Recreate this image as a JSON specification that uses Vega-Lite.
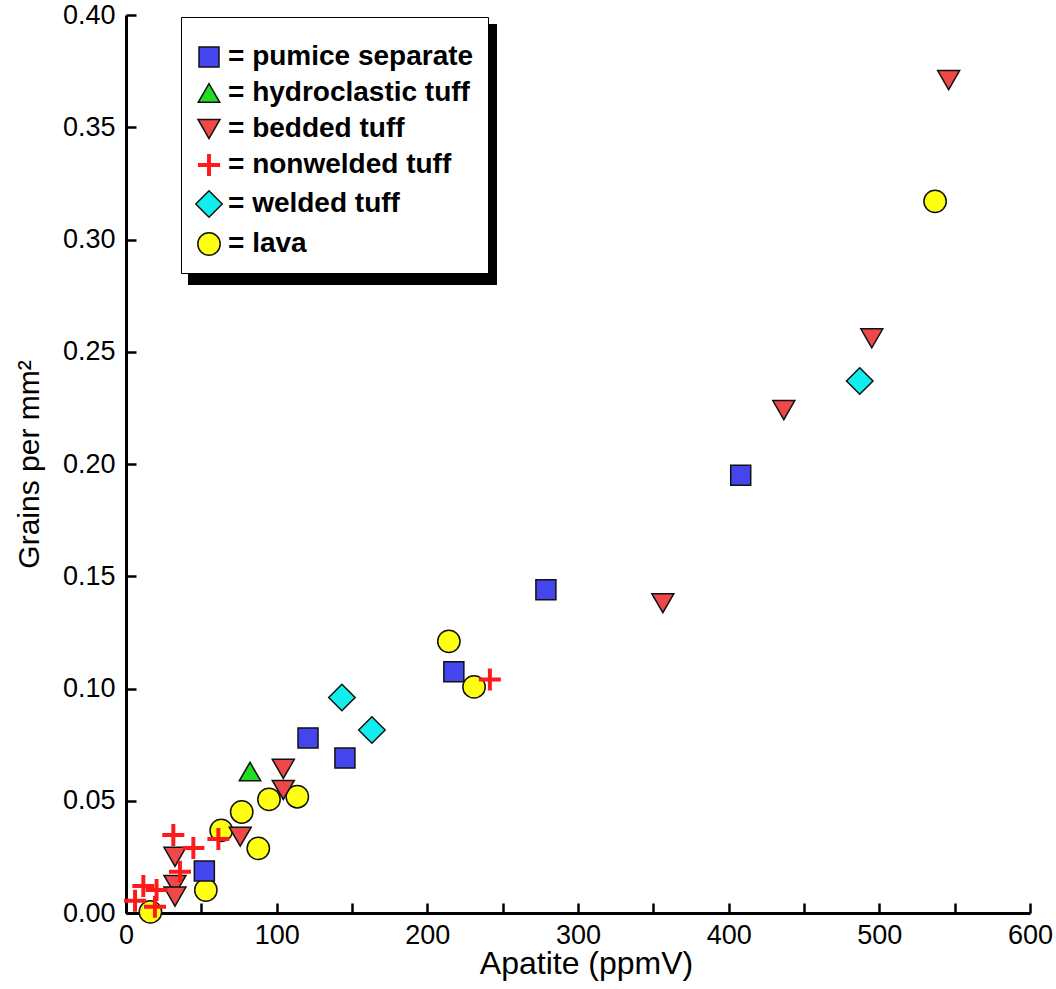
{
  "$schema": "https://vega.github.io/schema/vega-lite/v6.json",
  "autosize": {"type": "none"},
  "padding": {"left": 126, "top": 15, "right": 26, "bottom": 76},
  "width": 904,
  "height": 898,
  "background": "white",
  "config": {"view": {"stroke": null}},
  "data": {"values": [
    {"a": 537, "g": 0.317, "type": "lava"},
    {"a": 214.3, "g": 0.121, "type": "lava"},
    {"a": 231, "g": 0.1007, "type": "lava"},
    {"a": 113.7, "g": 0.0518, "type": "lava"},
    {"a": 94.9, "g": 0.0506, "type": "lava"},
    {"a": 76.8, "g": 0.045, "type": "lava"},
    {"a": 63.2, "g": 0.0368, "type": "lava"},
    {"a": 87.8, "g": 0.0288, "type": "lava"},
    {"a": 53, "g": 0.0102, "type": "lava"},
    {"a": 16.2, "g": 0.0005, "type": "lava"},
    {"a": 487, "g": 0.237, "type": "welded tuff"},
    {"a": 143.3, "g": 0.096, "type": "welded tuff"},
    {"a": 163.2, "g": 0.0815, "type": "welded tuff"},
    {"a": 52, "g": 0.0187, "type": "pumice separate"},
    {"a": 120.8, "g": 0.078, "type": "pumice separate"},
    {"a": 145.3, "g": 0.069, "type": "pumice separate"},
    {"a": 217.6, "g": 0.1075, "type": "pumice separate"},
    {"a": 278.7, "g": 0.144, "type": "pumice separate"},
    {"a": 408, "g": 0.195, "type": "pumice separate"},
    {"a": 82.3, "g": 0.063, "type": "hydroclastic tuff"},
    {"a": 546, "g": 0.371, "type": "bedded tuff"},
    {"a": 495, "g": 0.256, "type": "bedded tuff"},
    {"a": 436.6, "g": 0.224, "type": "bedded tuff"},
    {"a": 356.3, "g": 0.138, "type": "bedded tuff"},
    {"a": 104.4, "g": 0.0642, "type": "bedded tuff"},
    {"a": 104.4, "g": 0.0548, "type": "bedded tuff"},
    {"a": 75.8, "g": 0.034, "type": "bedded tuff"},
    {"a": 32.5, "g": 0.025, "type": "bedded tuff"},
    {"a": 32.5, "g": 0.0125, "type": "bedded tuff"},
    {"a": 32.5, "g": 0.0073, "type": "bedded tuff"},
    {"a": 241.5, "g": 0.104, "type": "nonwelded tuff"},
    {"a": 31.4, "g": 0.0347, "type": "nonwelded tuff"},
    {"a": 44.7, "g": 0.029, "type": "nonwelded tuff"},
    {"a": 61.3, "g": 0.033, "type": "nonwelded tuff"},
    {"a": 35.8, "g": 0.0184, "type": "nonwelded tuff"},
    {"a": 11.5, "g": 0.012, "type": "nonwelded tuff"},
    {"a": 20.3, "g": 0.0102, "type": "nonwelded tuff"},
    {"a": 6, "g": 0.0055, "type": "nonwelded tuff"},
    {"a": 19.2, "g": 0.0028, "type": "nonwelded tuff"}
  ]},
  "mark": {"type": "point", "filled": true, "strokeWidth": 1.5, "opacity": 1},
  "encoding": {
    "x": {
      "field": "a", "type": "quantitative",
      "scale": {"domain": [0, 600], "nice": false, "zero": false},
      "axis": {
        "title": "Apatite (ppmV)",
        "values": [0, 50, 100, 150, 200, 250, 300, 350, 400, 450, 500, 550, 600],
        "format": "d",
        "labelExpr": "datum.value % 100 === 0 ? datum.label : ''",
        "grid": false, "labelFlush": false,
        "domainColor": "black", "domainWidth": 3,
        "tickColor": "black", "tickWidth": 2.5, "tickSize": -10,
        "labelPadding": 19,
        "labelFont": "Liberation Sans", "labelFontSize": 27, "labelColor": "black",
        "titleFont": "Liberation Sans", "titleFontSize": 32, "titleFontWeight": "normal", "titleColor": "black",
        "titlePadding": 0, "titleX": 460
      }
    },
    "y": {
      "field": "g", "type": "quantitative",
      "scale": {"domain": [0, 0.4], "nice": false},
      "axis": {
        "title": "Grains per mm²",
        "values": [0, 0.05, 0.1, 0.15, 0.2, 0.25, 0.3, 0.35, 0.4],
        "format": ".2f",
        "grid": false, "labelFlush": false,
        "domainColor": "black", "domainWidth": 3,
        "tickColor": "black", "tickWidth": 2.5, "tickSize": -10,
        "labelPadding": 21,
        "labelFont": "Liberation Sans", "labelFontSize": 27, "labelColor": "black",
        "titleFont": "Liberation Sans", "titleFontSize": 30, "titleFontWeight": "normal", "titleColor": "black",
        "titlePadding": 18
      }
    },
    "shape": {
      "field": "type", "type": "nominal",
      "scale": {
        "domain": ["pumice separate", "hydroclastic tuff", "bedded tuff", "nonwelded tuff", "welded tuff", "lava"],
        "range": ["square", "triangle-up", "triangle-down", "M-1,-0.12H-0.12V-1H0.12V-0.12H1V0.12H0.12V1H-0.12V0.12H-1Z", "diamond", "circle"]
      },
      "legend": {
        "title": " ", "titleFontSize": 8, "titlePadding": 4,
        "orient": "none", "legendX": 55, "legendY": 2, "zindex": 2,
        "padding": 14, "fillColor": "white", "strokeColor": "black",
        "symbolOpacity": 1, "symbolStrokeWidth": 1.5,
        "labelFont": "Liberation Sans", "labelFontWeight": "bold", "labelFontSize": 28, "labelColor": "black",
        "labelExpr": "'= ' + datum.label", "labelLimit": 500, "labelOffset": 5,
        "rowPadding": 8,
        "encode": {
          "legend": {"update": {"strokeWidth": {"value": 2}}},
          "symbols": {"update": {"opacity": {"value": 1}}}
        }
      }
    },
    "fill": {
      "field": "type", "type": "nominal",
      "scale": {
        "domain": ["pumice separate", "hydroclastic tuff", "bedded tuff", "nonwelded tuff", "welded tuff", "lava"],
        "range": ["#4545ee", "#22dd22", "#ee4848", "#ff1a1a", "#11eeee", "#ffff11"]
      }
    },
    "stroke": {
      "field": "type", "type": "nominal",
      "scale": {
        "domain": ["pumice separate", "hydroclastic tuff", "bedded tuff", "nonwelded tuff", "welded tuff", "lava"],
        "range": ["#111111", "#111111", "#111111", "#ff1a1a", "#111111", "#111111"]
      }
    },
    "size": {
      "field": "type", "type": "nominal",
      "scale": {
        "type": "ordinal",
        "domain": ["pumice separate", "hydroclastic tuff", "bedded tuff", "nonwelded tuff", "welded tuff", "lava"],
        "range": [400, 460, 484, 420, 700, 500]
      }
    },
    "opacity": {
      "field": "type", "type": "nominal",
      "scale": {
        "type": "ordinal",
        "domain": ["lava", "welded tuff", "nonwelded tuff", "bedded tuff", "hydroclastic tuff", "pumice separate"],
        "range": [1, 1, 1, 1, 1, 1]
      },
      "legend": {
        "title": " ", "titleFontSize": 8, "titlePadding": 4, "titleColor": "black",
        "orient": "none", "legendX": 63, "legendY": 10, "zindex": 1,
        "padding": 14, "fillColor": "black", "strokeColor": "black",
        "symbolSize": 500, "symbolType": "circle", "symbolFillColor": "black", "symbolStrokeColor": "black",
        "labelFont": "Liberation Sans", "labelFontWeight": "bold", "labelFontSize": 28, "labelColor": "black",
        "labelExpr": "'= ' + datum.label", "labelLimit": 500, "labelOffset": 5,
        "rowPadding": 8,
        "encode": {"legend": {"update": {"strokeWidth": {"value": 2}}}}
      }
    }
  }
}
